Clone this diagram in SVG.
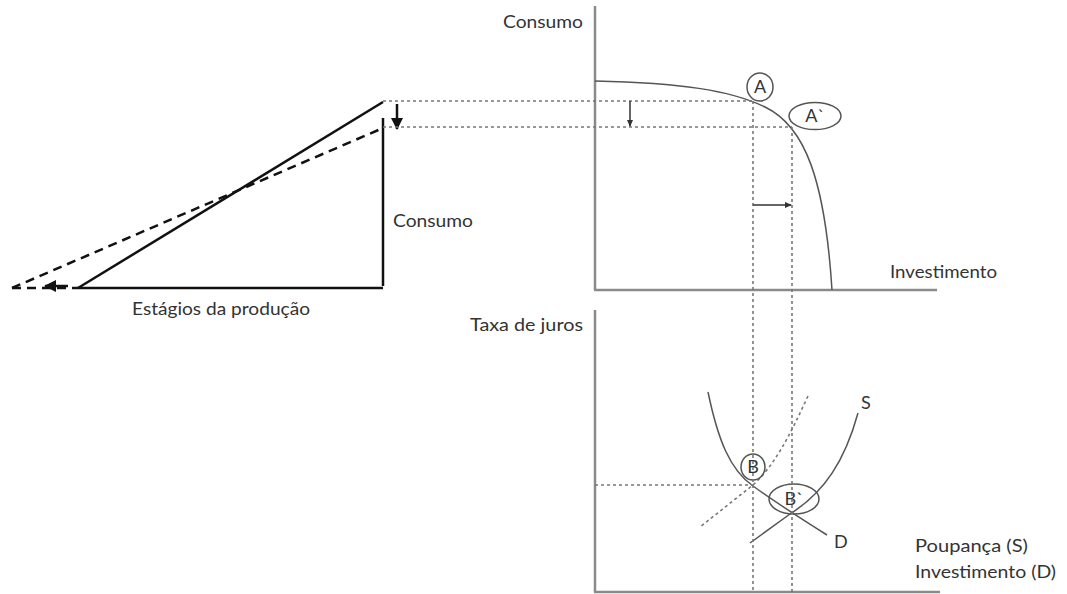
<svg xmlns="http://www.w3.org/2000/svg" width="1067" height="594" viewBox="0 0 1067 594">
<style>
text{font-family:Lato,"Open Sans","Liberation Sans",sans-serif;font-size:18px;fill:#333}
.ax{stroke:#8a8a8a;stroke-width:2.5;fill:none}
.cv{stroke:#555;stroke-width:1.5;fill:none}
.dot{stroke:#777;stroke-width:1.6;stroke-dasharray:3,3;fill:none}
.tri{stroke:#111;stroke-width:2.5;fill:none}
.trid{stroke:#111;stroke-width:2.5;stroke-dasharray:9,6;fill:none}
.ell{stroke:#555;stroke-width:1.5;fill:none}
.lbl{text-anchor:middle}
</style>
<defs>
<marker id="ah" markerWidth="8" markerHeight="8" refX="6" refY="4" orient="auto" markerUnits="userSpaceOnUse"><path d="M0,1 L7,4 L0,7 Z" fill="#333"/></marker>
<marker id="ahb" markerWidth="14" markerHeight="14" refX="11" refY="6" orient="auto" markerUnits="userSpaceOnUse"><path d="M0,0 L12,6 L0,12 Z" fill="#111"/></marker>
</defs>
<g id="triangle">
<line class="tri" x1="78" y1="288" x2="383" y2="102"/>
<line class="tri" x1="383" y1="118" x2="383" y2="286"/>
<line class="tri" x1="78" y1="288" x2="383" y2="288"/>
<line class="trid" x1="12" y1="288" x2="383" y2="128"/>
<line class="trid" x1="12" y1="288" x2="78" y2="288"/>
<line class="tri" x1="68" y1="286" x2="45" y2="286" marker-end="url(#ahb)"/>
<line class="tri" x1="397" y1="104" x2="397" y2="129" marker-end="url(#ahb)"/>
<text x="393" y="227" textLength="80" lengthAdjust="spacingAndGlyphs">Consumo</text>
<text x="132" y="315" textLength="178" lengthAdjust="spacingAndGlyphs">Estágios da produção</text>
</g>
<g id="top-axes">
<line class="ax" x1="595" y1="6" x2="595" y2="290"/>
<line class="ax" x1="594" y1="290" x2="937" y2="290"/>
<text x="503" y="28" textLength="80" lengthAdjust="spacingAndGlyphs">Consumo</text>
<text x="890" y="278" textLength="107" lengthAdjust="spacingAndGlyphs">Investimento</text>
</g>
<g id="ppf">
<path class="cv" d="M595,81 C680,83 730,90 765,107 C805,126 825,180 832,290"/>
</g>
<g id="point-A">
<ellipse class="ell" cx="760" cy="87" rx="13" ry="14"/>
<text class="lbl" x="760" y="93">A</text>
</g>
<g id="point-A2">
<ellipse class="ell" cx="815" cy="116" rx="26" ry="13.5"/>
<text class="lbl" x="815" y="122">A`</text>
</g>
<g id="bottom-axes">
<line class="ax" x1="595" y1="310" x2="595" y2="592"/>
<line class="ax" x1="594" y1="592" x2="940" y2="592"/>
<text x="470" y="331" textLength="113" lengthAdjust="spacingAndGlyphs">Taxa de juros</text>
<text x="915" y="552" textLength="113" lengthAdjust="spacingAndGlyphs">Poupança (S)</text>
<text x="915" y="578" textLength="141" lengthAdjust="spacingAndGlyphs">Investimento (D)</text>
</g>
<g id="curve-D">
<path class="cv" d="M708,392 C718,440 730,470 753,486 C775,502 800,518 827,535"/>
<text x="834" y="548">D</text>
</g>
<g id="curve-S">
<path class="cv" d="M858,413 C845,460 825,492 790,514 L750,543"/>
<text x="861" y="409">S</text>
</g>
<g id="curve-S2">
<path class="dot" d="M808,396 C790,435 775,465 753,485 L700,527"/>
</g>
<g id="point-B">
<ellipse class="ell" cx="753" cy="467" rx="12" ry="13"/>
<text class="lbl" x="753" y="473">B</text>
</g>
<g id="point-B2">
<ellipse class="ell" cx="794" cy="499" rx="25" ry="15"/>
<text class="lbl" x="794" y="505">B`</text>
</g>
<g id="connectors">
<line class="dot" x1="383" y1="101" x2="753" y2="101"/>
<line class="dot" x1="383" y1="127" x2="792" y2="127"/>
<line class="dot" x1="753" y1="101" x2="753" y2="592"/>
<line class="dot" x1="792" y1="127" x2="792" y2="592"/>
<line class="dot" x1="595" y1="485" x2="753" y2="485"/>
<line stroke="#333" stroke-width="1.5" x1="630" y1="101" x2="630" y2="126" marker-end="url(#ah)"/>
<line stroke="#333" stroke-width="1.5" x1="753" y1="205" x2="791" y2="205" marker-end="url(#ah)"/>
</g>
</svg>
